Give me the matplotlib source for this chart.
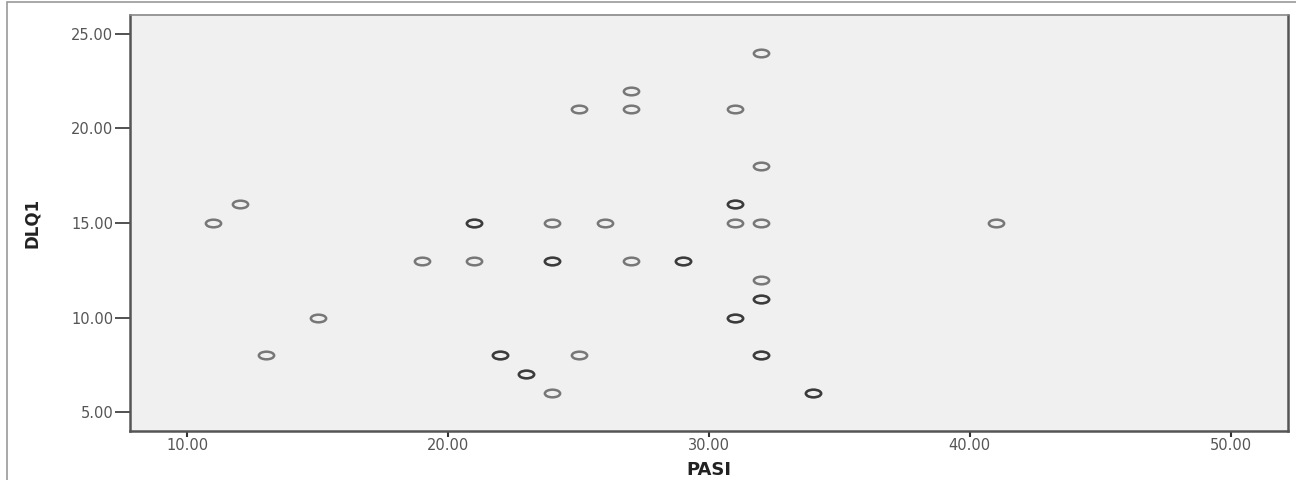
import matplotlib
matplotlib.use("Agg")
import matplotlib.pyplot as plt
from matplotlib.path import Path
from matplotlib.transforms import Affine2D
from matplotlib.patches import Rectangle

# PASI vs DLQ1 (repeated pairs show as darker rings)
pasi = [11, 12, 13, 15, 19, 21, 21, 21, 22, 22, 23, 23, 24, 24, 24, 24,
        25, 25, 26, 27, 27, 27, 29, 29, 31, 31, 31, 31, 31, 31,
        32, 32, 32, 32, 32, 32, 32, 32, 34, 34, 41]
dlq1 = [15, 16, 8, 10, 13, 15, 15, 13, 8, 8, 7, 7, 15, 13, 13, 6,
        21, 8, 15, 22, 21, 13, 13, 13, 21, 16, 16, 15, 10, 10,
        24, 18, 15, 12, 11, 11, 8, 8, 6, 6, 15]

x_ticks = [10, 20, 30, 40, 50]
y_ticks = [5, 10, 15, 20, 25]

# flattened ring marker like the SPSS output
ring = Path.unit_circle().transformed(Affine2D().scale(1, 0.5))

fig = plt.figure(figsize=(12.96, 4.8), dpi=100)
ax = fig.add_axes([0.1003, 0.102, 0.8935, 0.867])
ax.set_facecolor("#f0f0f0")

ax.plot(pasi, dlq1, linestyle="none", marker=ring, markersize=11,
        markerfacecolor="none", markeredgecolor="black",
        markeredgewidth=1.8, alpha=0.5)

ax.set_xlim(7.8, 52.2)
ax.set_ylim(4.0, 26.0)
ax.set_xticks(x_ticks)
ax.set_yticks(y_ticks)
ax.set_xticklabels([f"{v:.2f}" for v in x_ticks])
ax.set_yticklabels([f"{v:.2f}" for v in y_ticks])
ax.tick_params(axis="x", length=4, width=1.5, pad=1, labelsize=10.5,
               labelcolor="#555555", color="#333333")
ax.tick_params(axis="y", length=11, width=1.2, pad=1, labelsize=10.5,
               labelcolor="#555555", color="#333333")

for side in ["left", "bottom", "right"]:
    ax.spines[side].set_color("#555555")
    ax.spines[side].set_linewidth(1.8)
ax.spines["top"].set_color("#888888")
ax.spines["top"].set_linewidth(1.2)

ax.set_xlabel("PASI", fontsize=13, fontweight="bold", color="#222222",
              labelpad=6)
ax.set_ylabel("DLQ1", fontsize=12, fontweight="bold", color="#222222",
              labelpad=22)

# outer frame round the whole chart
fig.patches.append(Rectangle((7 / 1296, -0.01), 1.0, 1.0 - 2 / 480 + 0.01,
                             transform=fig.transFigure, fill=False,
                             edgecolor="#999999", linewidth=1.2))

fig.savefig("out.png", dpi=100)
